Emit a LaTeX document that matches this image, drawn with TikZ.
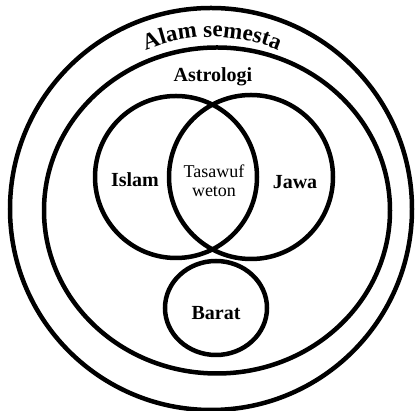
\documentclass[tikz,border=0pt]{standalone}
\usepackage{fontspec}
\setmainfont{Liberation Serif}
\usetikzlibrary{decorations.text}

\tikzset{
  ring/.style={draw,line width=4.5pt},
  lbl/.style={font=\bfseries\fontsize{20}{22}\selectfont},
  small lbl/.style={font=\fontsize{18}{19}\selectfont,align=center}
}

\begin{document}
\begin{tikzpicture}[x=1pt,y=1pt]
\useasboundingbox (0,0) rectangle (418,411);
% radius of the curved title
\def\R{172}
% ---------- outer rings ----------
\draw[ring] (211,202) circle [radius=201];
\draw[ring] (217,200.5) ellipse [x radius=173, y radius=163];
% ---------- curved title ----------
\path[decorate,decoration={text along path,text align=center,
  text={|\bfseries\fontsize{23}{23}\selectfont|Alam semesta}}]
  (212,202) ++(118:\R) arc [start angle=118, end angle=62, radius=\R];
\node[lbl] (astro) at (213,334) {Astrologi};
% ---------- venn of Islam and Jawa ----------
\draw[ring] (176,234) circle [radius=81];
\draw[ring] (251,234) circle [radius=82];
\node[lbl] (islam) at (135,231) {Islam};
\node[small lbl] (tasawuf) at (214,230) {Tasawuf\\weton};
\node[lbl] (jawa) at (295,229) {Jawa};
% ---------- Barat ----------
\draw[ring] (216,103) ellipse [x radius=51, y radius=47];
\node[lbl] (barat) at (216,98) {Barat};
\end{tikzpicture}
\end{document}
